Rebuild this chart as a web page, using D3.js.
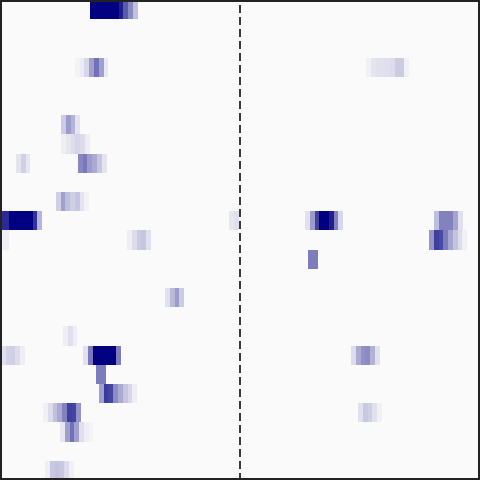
<!DOCTYPE html>
<html>
<head>
<meta charset="utf-8">
<script src="https://cdn.jsdelivr.net/npm/d3@7"></script>
<style>
  html, body { margin: 0; padding: 0; background: #fafafa; }
  svg { display: block; }
</style>
</head>
<body>
<div id="chart"></div>
<script>
// ---- data ----
const rowCount = 25;          // trials (rows)
const binCount = 101;         // time bins (columns)
const zeroBin = 50.5;         // event onset (dashed line), centre of middle bin

const segmentRow = [0, 3, 3, 6, 7, 8, 8, 10, 11, 11, 11, 11, 12, 12, 12, 13, 15, 17, 18, 18, 18, 19, 20, 21, 21, 22, 24];
const segmentStart = [18.94, 15.78, 77.02, 12.84, 12.84, 3.37, 16.41, 11.78, -0.16, 48.19, 64.18, 91.33, -0.16, 26.73, 90.28,
                      64.81, 34.72, 13.26, 0.21, 17.47, 73.86, 20.2, 20.83, 9.05, 75.34, 12.63, 9.47];
const segmentValues = [
  [1, 1, 1, 1, 1, 1, 0.88, 0.64, 0.45, 0.23],
  [0.03, 0.06, 0.14, 0.36, 0.55, 0.36, 0.07],
  [0.04, 0.09, 0.1, 0.1, 0.11, 0.12, 0.19, 0.19, 0.04],
  [0.19, 0.38, 0.28, 0.09],
  [0.05, 0.08, 0.12, 0.15, 0.12, 0.05],
  [0.09, 0.17, 0.08],
  [0.46, 0.52, 0.38, 0.32, 0.21, 0.09],
  [0.17, 0.36, 0.24, 0.17, 0.21, 0.09, 0.03],
  [0.83, 0.83, 1, 1, 1, 1, 1, 0.8, 0.28],
  [0.08, 0.11],
  [0.1, 0.38, 0.74, 1, 1, 0.88, 0.48, 0.14],
  [0.24, 0.48, 0.48, 0.48, 0.34, 0.1],
  [0.05, 0.05],
  [0.05, 0.12, 0.19, 0.21, 0.1],
  [0.4, 0.75, 0.7, 0.5, 0.34, 0.22, 0.12, 0.04],
  [0.5, 0.5],
  [0.1, 0.26, 0.38, 0.19],
  [0.05, 0.11, 0.05],
  [0.1, 0.16, 0.17, 0.12, 0.05],
  [0.1, 0.52, 1, 1, 1, 1, 1, 0.5],
  [0.12, 0.32, 0.42, 0.44, 0.29, 0.1],
  [0.5, 0.5],
  [0.36, 0.76, 0.72, 0.44, 0.32, 0.21, 0.14, 0.05],
  [0.04, 0.12, 0.23, 0.32, 0.48, 0.75, 0.73, 0.41],
  [0.1, 0.2, 0.17, 0.1, 0.04],
  [0.08, 0.36, 0.55, 0.36, 0.11, 0.05, 0.02],
  [0.05, 0.2, 0.22, 0.2, 0.12, 0.04]
];

// ---- build cells ----
const cells = segmentRow.flatMap((r, i) =>
  segmentValues[i].map((v, j) => ({ row: r, x0: segmentStart[i] + j, value: v }))
);

const W = 480, H = 480;
const x = d3.scaleLinear().domain([0, binCount]).range([0, W]);
const y = d3.scaleBand().domain(d3.range(rowCount)).range([0, H]).padding(0);
const color = d3.scaleLinear().domain([0, 1]).range(["#fafafa", "#000080"]).interpolate(d3.interpolateRgb).clamp(true);

const svg = d3.select("#chart").append("svg").attr("width", W).attr("height", H);

svg.append("defs").append("clipPath").attr("id", "plotclip")
  .append("rect").attr("x", 0).attr("y", 0).attr("width", W).attr("height", H);

svg.append("rect").attr("width", W).attr("height", H).attr("fill", color(0));

svg.append("g").attr("clip-path", "url(#plotclip)")
  .selectAll("rect.cell").data(cells).join("rect")
  .attr("class", "cell")
  .attr("x", d => x(d.x0))
  .attr("y", d => y(d.row))
  .attr("width", x(1) - x(0))
  .attr("height", y.bandwidth())
  .attr("fill", d => color(d.value))
  .attr("shape-rendering", "crispEdges");

// onset line
svg.append("line")
  .attr("x1", x(zeroBin)).attr("x2", x(zeroBin))
  .attr("y1", 0).attr("y2", H)
  .attr("stroke", "#3a3a3a").attr("stroke-width", 2)
  .attr("stroke-dasharray", "8,4").attr("stroke-dashoffset", 7);

// frame
svg.append("rect")
  .attr("x", 1).attr("y", 1).attr("width", W - 2).attr("height", H - 2)
  .attr("fill", "none").attr("stroke", "#222").attr("stroke-width", 2);
</script>
</body>
</html>
